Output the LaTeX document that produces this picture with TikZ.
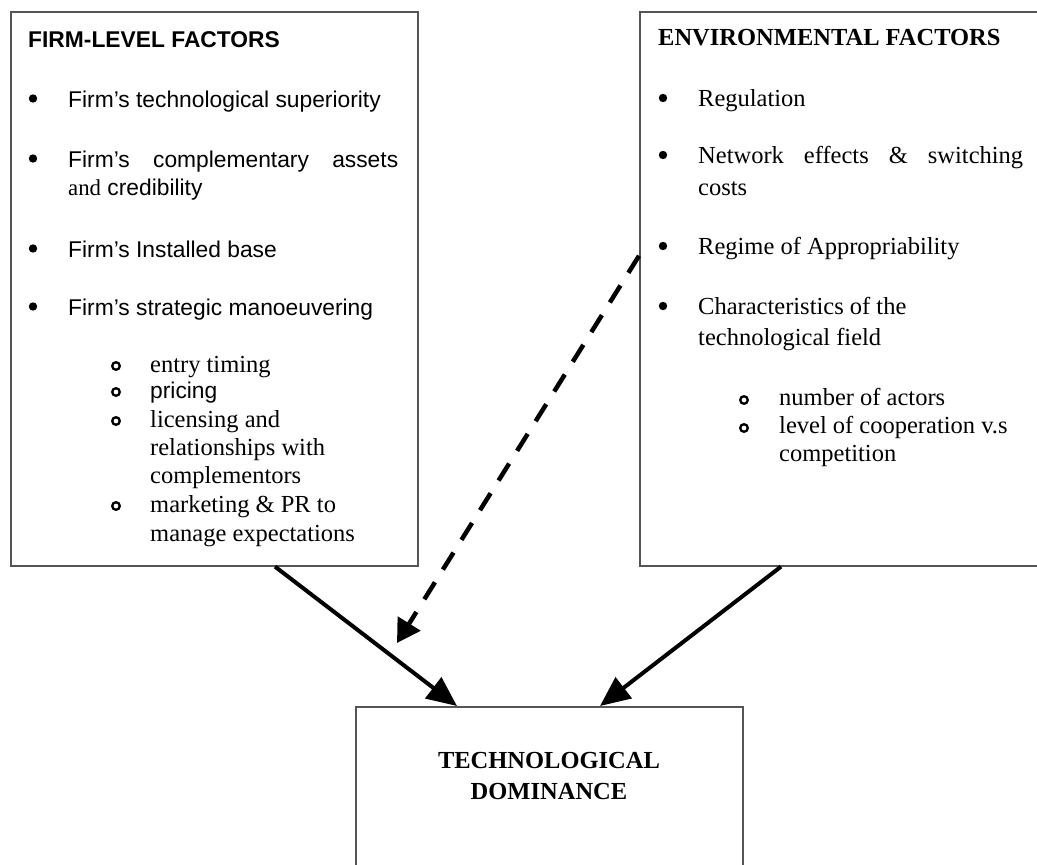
\documentclass[tikz,border=0pt]{standalone}
\usepackage{fontspec}
\setmainfont{Liberation Serif}
\newfontfamily\arialf{Liberation Sans}
\usetikzlibrary{arrows.meta,calc}
\definecolor{boxgray}{RGB}{85,85,85}
\begin{document}
\begin{tikzpicture}[x=1pt,y=-1pt,
  box/.style={draw=boxgray,line width=1.6pt,rectangle,inner sep=0pt,anchor=north west},
  ar/.style={font=\arialf\fontsize{22.8}{27}\selectfont,anchor=base west,inner sep=0pt},
  arb/.style={font=\arialf\bfseries\fontsize{22.8}{27}\selectfont,anchor=base west,inner sep=0pt},
  tr/.style={font=\fontsize{24.5}{29}\selectfont,anchor=base west,inner sep=0pt},
  trb/.style={font=\bfseries\fontsize{24.5}{29}\selectfont,anchor=base,inner sep=0pt},
  dot/.style={fill=black},
  ring/.style={draw=black,line width=2.3pt},
  arw/.style={line width=4pt,-{Triangle[length=30pt,width=26pt]}},
  darw/.style={line width=4.5pt,dash pattern=on 20pt off 15pt,-{Triangle[length=23pt,width=26pt]}}
]
\clip (0,0) rectangle (1037,865);
\fill[white] (0,0) rectangle (1037,865);

% boxes
\node[box,minimum width=407pt,minimum height=554pt] (firm) at (10,11) {};
\node[box,minimum width=430pt,minimum height=554pt] (env) at (639,11) {};
\node[box,minimum width=387pt,minimum height=190pt] (dom) at (355,706) {};

% firm-level text
\node[arb] (fh) at (28,47) {FIRM-LEVEL FACTORS};
\node[ar] (f1) at (68,107) {Firm’s technological superiority};
\node[ar] (f2a) at (68,167) {\hbox to 330pt{Firm’s\hfill complementary\hfill assets}};
\node[ar] (f2b) at (68,195) {{\rmfamily and} credibility};
\node[ar] (f3) at (68,257) {Firm’s Installed base};
\node[ar] (f4) at (68,315) {Firm’s strategic manoeuvering};
\foreach \y in {107,167,257,315} \fill[dot] (33,\y-8.5) circle (4.2);

\node[tr] (s1) at (150,372) {entry timing};
\node[ar] (s2) at (150,398) {pricing};
\node[tr] (s3a) at (150,427) {licensing and};
\node[tr] (s3b) at (150,455) {relationships with};
\node[tr] (s3c) at (150,483) {complementors};
\node[tr] (s4a) at (150,512) {marketing \& PR to};
\node[tr] (s4b) at (150,541) {manage expectations};
\foreach \y in {372,398,427,512} \draw[ring] (116,\y-6) circle (3.8);

% environmental text
\node[tr,font=\bfseries\fontsize{24.5}{29}\selectfont] (eh) at (658,45) {ENVIRONMENTAL FACTORS};
\node[tr] (e1) at (698,106) {Regulation};
\node[tr] (e2a) at (698,163) {\hbox to 325pt{Network\hfill effects\hfill \&\hfill switching}};
\node[tr] (e2b) at (698,195) {costs};
\node[tr] (e3) at (698,254) {Regime of Appropriability};
\node[tr] (e4a) at (698,314) {Characteristics of the};
\node[tr] (e4b) at (698,345) {technological field};
\foreach \y in {106,163,254,314} \fill[dot] (663,\y-8) circle (4.2);

\node[tr] (c1) at (779,405) {number of actors};
\node[tr] (c2a) at (779,433) {level of cooperation v.s};
\node[tr] (c2b) at (779,461) {competition};
\foreach \y in {405,433} \draw[ring] (744,\y-5) circle (3.8);

% outcome text
\node[trb] (d1) at (549,768) {TECHNOLOGICAL};
\node[trb] (d2) at (549,799) {DOMINANCE};

% connectors
\coordinate (dtip) at (397,643);
\draw[arw] ([xshift=265pt]firm.south west) -- ([xshift=102pt]dom.north west);
\draw[arw] ([xshift=142pt]env.south west) -- ([xshift=245pt]dom.north west);
\draw[darw] ([yshift=33pt]env.west) -- (dtip);
\end{tikzpicture}
\end{document}
